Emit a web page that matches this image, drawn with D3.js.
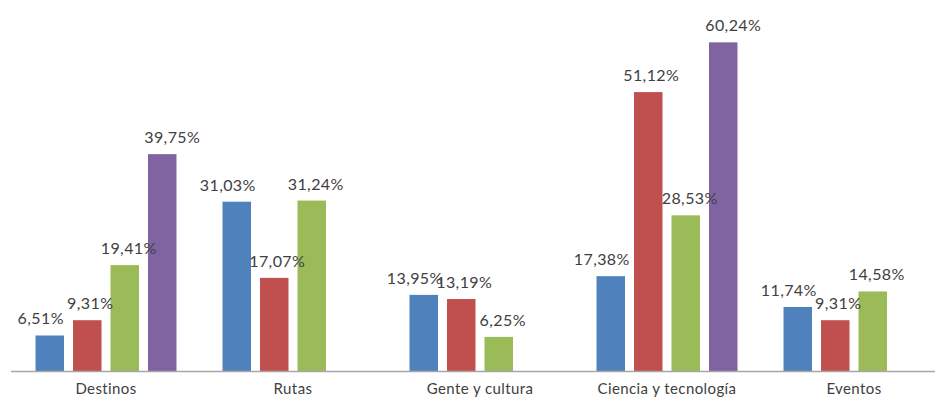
<!DOCTYPE html>
<html>
<head>
<meta charset="utf-8">
<script src="https://cdn.jsdelivr.net/npm/d3@7/dist/d3.min.js"></script>
<style>
  html, body { margin: 0; padding: 0; background: #ffffff; }
  svg { display: block; }
</style>
</head>
<body>
<svg id="chart" width="936" height="406"></svg>
<script>
// ---- data ----
const categories = ["Destinos", "Rutas", "Gente y cultura", "Ciencia y tecnología", "Eventos"];
const seriesNames = ["S1", "S2", "S3", "S4"];
const seriesBlue   = [6.51, 31.03, 13.95, 17.38, 11.74];
const seriesRed    = [9.31, 17.07, 13.19, 51.12, 9.31];
const seriesGreen  = [19.41, 31.24, 6.25, 28.53, 14.58];
const seriesPurple = [39.75, null, null, 60.24, null];

// ---- styles ----
const colors = ["#4F81BD", "#C0504D", "#9BBB59", "#8064A2"];
const labelDx = [-9, 3, 4, 10];

const allSeries = [seriesBlue, seriesRed, seriesGreen, seriesPurple];
const rows = [];
categories.forEach((c, ci) => {
  allSeries.forEach((s, si) => {
    if (s[ci] !== null && s[ci] !== undefined) {
      rows.push({ cat: c, series: seriesNames[si], si: si, value: s[ci] });
    }
  });
});

const svg = d3.select("#chart");

const x0 = d3.scaleBand()
  .domain(categories)
  .range([12.5, 947.5])
  .paddingInner(0.198)
  .paddingOuter(0.099);

const x1 = d3.scaleBand()
  .domain(seriesNames)
  .range([0, x0.bandwidth()])
  .paddingInner(0.24)
  .paddingOuter(0.12);

const y = d3.scaleLinear()
  .domain([0, 68])
  .range([371, 0]);

// bars
svg.append("g")
  .selectAll("rect")
  .data(rows)
  .join("rect")
  .attr("x", d => x0(d.cat) + x1(d.series))
  .attr("y", d => y(d.value))
  .attr("width", x1.bandwidth())
  .attr("height", d => y(0) - y(d.value))
  .attr("fill", d => colors[d.si]);

// axis line
svg.append("line")
  .attr("x1", 11).attr("x2", 935)
  .attr("y1", y(0) + 0.5).attr("y2", y(0) + 0.5)
  .attr("stroke", "#a6a6a6")
  .attr("stroke-width", 1.5);

// category labels via axis
const xAxis = d3.axisBottom(x0).tickSize(0).tickPadding(0);
const gAxis = svg.append("g")
  .attr("transform", `translate(0, ${y(0)})`)
  .call(xAxis);
gAxis.select(".domain").remove();
gAxis.selectAll("text")
  .attr("y", 23)
  .attr("dy", 0)
  .attr("fill", "#404040")
  .style("font-family", "Lato, 'Open Sans', sans-serif")
  .style("font-size", "15px")
  .style("letter-spacing", "0.4px");

// value labels
const fmt = v => v.toFixed(2).replace(".", ",") + "%";
svg.append("g")
  .selectAll("text")
  .data(rows)
  .join("text")
  .attr("x", d => x0(d.cat) + x1(d.series) + x1.bandwidth() / 2 + labelDx[d.si])
  .attr("y", d => y(d.value) - 11)
  .attr("text-anchor", "middle")
  .attr("fill", "#404040")
  .style("font-family", "Lato, 'Open Sans', sans-serif")
  .style("font-size", "16px")
  .style("letter-spacing", "0.4px")
  .text(d => fmt(d.value));
</script>
</body>
</html>
